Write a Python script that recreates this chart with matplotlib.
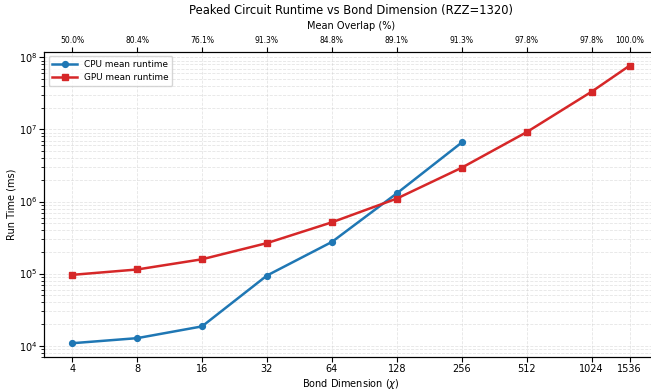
import matplotlib
matplotlib.use("Agg")
import matplotlib.pyplot as plt
from matplotlib.ticker import NullFormatter, FixedLocator

bond_dims = [4, 8, 16, 32, 64, 128, 256, 512, 1024, 1536]
cpu_dims = [4, 8, 16, 32, 64, 128, 256]
cpu_runtime = [1.08e4, 1.27e4, 1.85e4, 9.4e4, 2.75e5, 1.3e6, 6.6e6]
gpu_runtime = [9.6e4, 1.14e5, 1.58e5, 2.65e5, 5.15e5, 1.1e6, 2.95e6, 9.2e6, 3.35e7, 7.7e7]
overlap = ["50.0%", "80.4%", "76.1%", "91.3%", "84.8%", "89.1%", "91.3%", "97.8%", "97.8%", "100.0%"]

fig = plt.figure(figsize=(6.51, 3.92), dpi=100)
ax = fig.add_axes([0.068, 0.089, 0.942, 0.779])

ax.plot(cpu_dims, cpu_runtime, "-o", color="#1f77b4", lw=1.8, ms=4.2, label="CPU mean runtime")
ax.plot(bond_dims, gpu_runtime, "-s", color="#d62728", lw=1.8, ms=4.2, label="GPU mean runtime")

ax.set_xscale("log", base=2)
ax.set_yscale("log")
ax.xaxis.set_major_locator(FixedLocator(bond_dims))
ax.set_xticklabels([str(b) for b in bond_dims])
ax.xaxis.set_minor_formatter(NullFormatter())
ax.tick_params(labelsize=7, pad=1.5)
ax.grid(True, which="both", ls="--", lw=0.6, color="#cccccc", alpha=0.5)
ax.set_xlabel("Bond Dimension ($\\chi$)", fontsize=7, labelpad=2)
ax.set_ylabel("Run Time (ms)", fontsize=7, labelpad=1.5)
ax.legend(loc="upper left", fontsize=6.4, handlelength=2.8)
ax.spines["right"].set_visible(False)

top = ax.twiny()
top.set_xscale("log", base=2)
top.set_xlim(ax.get_xlim())
top.xaxis.set_major_locator(FixedLocator(bond_dims))
top.set_xticklabels(overlap)
top.xaxis.set_minor_formatter(NullFormatter())
top.tick_params(labelsize=5.5, pad=1.5)
top.set_xlabel("Mean Overlap (%)", fontsize=7, labelpad=5)
top.set_title("Peaked Circuit Runtime vs Bond Dimension (RZZ=1320)", fontsize=8.3, pad=5)
top.spines["right"].set_visible(False)

fig.savefig("out.png", dpi=100)
